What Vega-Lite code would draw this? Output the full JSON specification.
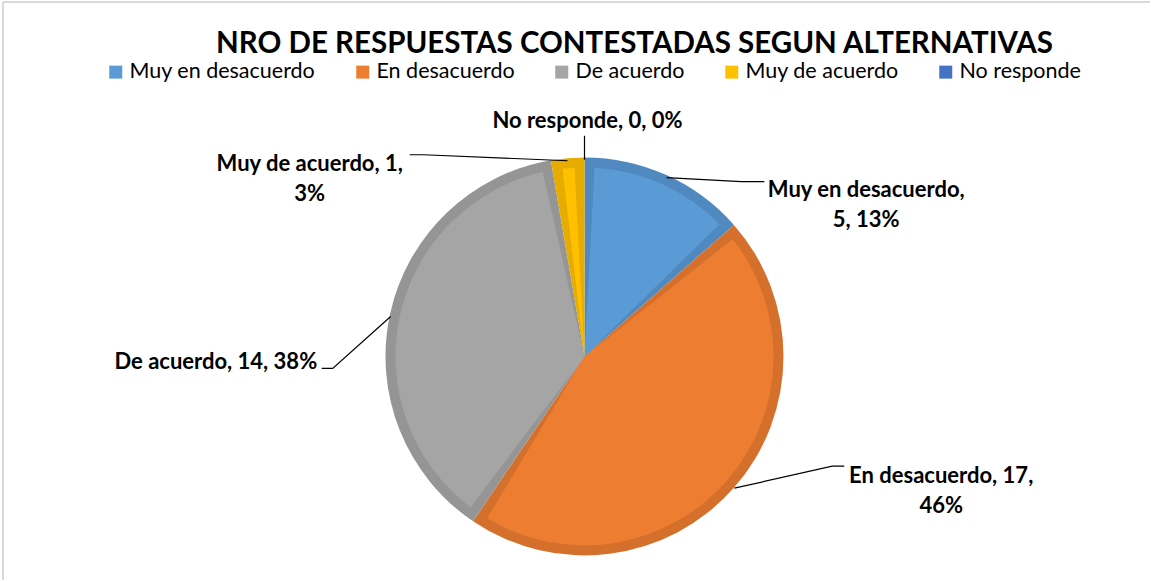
{
  "$schema": "https://vega.github.io/schema/vega-lite/v6.json",
  "autosize": {"type": "fit", "contains": "padding"},
  "width": 1151,
  "height": 581,
  "padding": 0,
  "background": "white",
  "config": {"view": {"stroke": null}},
  "datasets": {
    "slices": [
      {"cat": "Muy en desacuerdo", "n": 5, "o": 1},
      {"cat": "En desacuerdo", "n": 17, "o": 2},
      {"cat": "De acuerdo", "n": 14, "o": 3},
      {"cat": "Muy de acuerdo", "n": 1, "o": 4},
      {"cat": "No responde", "n": 0, "o": 5}
    ],
    "labels": [
      {"label": "No responde, 0, 0%", "lx": 0.0151, "ly": 1.1859},
      {"label": "Muy de acuerdo, 1,\n3%", "lx": -1.3819, "ly": 0.9698},
      {"label": "Muy en desacuerdo,\n5, 13%", "lx": 1.4171, "ly": 0.8392},
      {"label": "De acuerdo, 14, 38%", "lx": -1.8543, "ly": -0.0302},
      {"label": "En desacuerdo, 17,\n46%", "lx": 1.794, "ly": -0.603}
    ],
    "leaders": [
      {"id": "nr", "s": 1, "lx": 0, "ly": 1.1106},
      {"id": "nr", "s": 2, "lx": 0, "ly": 0.9899},
      {"id": "mda", "s": 1, "lx": -0.8794, "ly": 1.0151},
      {"id": "mda", "s": 2, "lx": -0.809, "ly": 1.0151},
      {"id": "mda", "s": 3, "lx": -0.0854, "ly": 0.9849},
      {"id": "med", "s": 1, "lx": 0.4121, "ly": 0.8995},
      {"id": "med", "s": 2, "lx": 0.7889, "ly": 0.8794},
      {"id": "med", "s": 3, "lx": 0.9045, "ly": 0.8794},
      {"id": "da", "s": 1, "lx": -1.3216, "ly": -0.0603},
      {"id": "da", "s": 2, "lx": -1.2663, "ly": -0.0603},
      {"id": "da", "s": 3, "lx": -0.9749, "ly": 0.201},
      {"id": "ed", "s": 1, "lx": 1.3065, "ly": -0.5528},
      {"id": "ed", "s": 2, "lx": 1.2462, "ly": -0.5528},
      {"id": "ed", "s": 3, "lx": 0.7538, "ly": -0.6633}
    ],
    "frame": [
      {"x1": -2.9246, "y1": 1.7839, "x2": 2.8442, "y2": 1.7839},
      {"x1": -2.9246, "y1": 1.7839, "x2": -2.9246, "y2": -1.1256}
    ],
    "title": [
      {"t": "NRO DE RESPUESTAS CONTESTADAS SEGUN ALTERNATIVAS", "lx": 0.2513, "ly": 1.5729}
    ]
  },
  "resolve": {"legend": {"fill": "independent", "color": "independent"}},
  "layer": [
    {
      "data": {"name": "frame"},
      "mark": {"type": "rule", "color": "#d9d9d9", "strokeWidth": 2},
      "encoding": {
        "x": {"field": "x1", "type": "quantitative", "scale": {"domain": [-2.9397, 2.8442], "nice": false, "zero": false}, "axis": null},
        "y": {"field": "y1", "type": "quantitative", "scale": {"domain": [-1.1256, 1.794], "nice": false, "zero": false}, "axis": null},
        "x2": {"field": "x2"},
        "y2": {"field": "y2"}
      }
    },
    {
      "data": {"name": "slices"},
      "mark": {"type": "arc", "outerRadius": 199},
      "encoding": {
        "x": {"datum": 0, "type": "quantitative"},
        "y": {"datum": 0, "type": "quantitative"},
        "theta": {"field": "n", "type": "quantitative", "stack": true},
        "order": {"field": "o", "type": "quantitative"},
        "fill": {"field": "cat", "type": "nominal", "legend": null,
          "scale": {"domain": ["Muy en desacuerdo", "En desacuerdo", "De acuerdo", "Muy de acuerdo", "No responde"],
                    "range": ["#4F89C0", "#D5702C", "#959595", "#E6AC00", "#3D66B0"]}}
      }
    },
    {
      "data": {"name": "slices"},
      "mark": {"type": "arc", "outerRadius": 189, "padAngle": 0.106},
      "encoding": {
        "x": {"datum": 0, "type": "quantitative"},
        "y": {"datum": 0, "type": "quantitative"},
        "theta": {"field": "n", "type": "quantitative", "stack": true},
        "order": {"field": "o", "type": "quantitative"},
        "color": {"field": "cat", "type": "nominal",
          "scale": {"domain": ["Muy en desacuerdo", "En desacuerdo", "De acuerdo", "Muy de acuerdo", "No responde"],
                    "range": ["#5B9BD5", "#ED7D31", "#A5A5A5", "#FFC000", "#4472C4"]},
          "legend": {"orient": "none", "legendX": 105, "legendY": 61, "direction": "horizontal", "columns": 5,
                     "title": null, "symbolType": "square", "symbolSize": 169, "symbolStrokeWidth": 0,
                     "labelFont": "Lato", "labelFontSize": 21.5, "labelColor": "#000000", "labelOffset": 3,
                     "columnPadding": 36, "labelLimit": 400}}
      }
    },
    {
      "data": {"name": "leaders"},
      "mark": {"type": "line", "color": "#000000", "strokeWidth": 1.2},
      "encoding": {
        "x": {"field": "lx", "type": "quantitative"},
        "y": {"field": "ly", "type": "quantitative"},
        "detail": {"field": "id", "type": "nominal"},
        "order": {"field": "s", "type": "quantitative"}
      }
    },
    {
      "data": {"name": "labels"},
      "mark": {"type": "text", "font": "Lato", "fontWeight": "bold", "fontSize": 22, "align": "center", "baseline": "middle", "lineBreak": "\n", "lineHeight": 30, "color": "#000000"},
      "encoding": {
        "x": {"field": "lx", "type": "quantitative"},
        "y": {"field": "ly", "type": "quantitative"},
        "text": {"field": "label", "type": "nominal"}
      }
    },
    {
      "data": {"name": "title"},
      "mark": {"type": "text", "font": "Lato", "fontWeight": "bold", "fontSize": 29.5, "align": "center", "baseline": "middle", "color": "#000000"},
      "encoding": {
        "x": {"field": "lx", "type": "quantitative"},
        "y": {"field": "ly", "type": "quantitative"},
        "text": {"field": "t", "type": "nominal"}
      }
    }
  ]
}
